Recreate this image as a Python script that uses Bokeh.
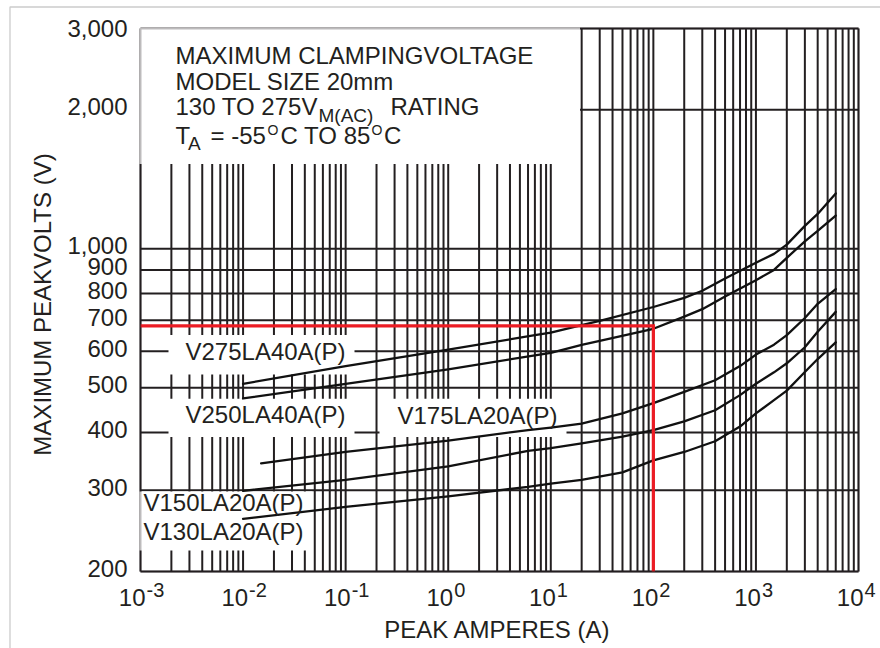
import math
from bokeh.plotting import figure
from bokeh.models import BoxAnnotation, Label, Range1d
from bokeh.embed import file_html
from bokeh.resources import INLINE

# ---------------- data ----------------
v275_amps = [0.01, 0.1, 1, 7, 10, 20, 30, 100, 200, 300, 500, 1000, 1500, 2000, 3000, 4000, 6000]
v275_volts = [510, 557, 605, 650, 658, 683, 698, 748, 783, 811, 862, 933, 975, 1021, 1121, 1190, 1318]

v250_amps = [0.01, 0.1, 1, 7, 10, 20, 30, 100, 200, 300, 500, 1000, 1500, 2000, 3000, 4000, 6000]
v250_volts = [474, 510, 548, 588, 595, 619, 632, 671, 713, 740, 788, 855, 900, 956, 1038, 1093, 1180]

v175_amps = [0.015, 0.1, 1, 6, 10, 20, 50, 100, 200, 400, 700, 1000, 1500, 2000, 3000, 4000, 6000]
v175_volts = [343, 363, 384, 405, 410, 418, 440, 463, 490, 519, 557, 590, 620, 650, 708, 760, 818]

v150_amps = [0.01, 0.1, 1, 6, 10, 20, 50, 100, 200, 400, 700, 1000, 1500, 2000, 3000, 4000, 6000]
v150_volts = [299, 316, 338, 365, 370, 379, 392, 405, 423, 447, 482, 510, 540, 565, 612, 661, 730]

v130_amps = [0.01, 0.1, 1, 6, 10, 20, 50, 100, 200, 400, 700, 1000, 1500, 2000, 3000, 4000, 6000]
v130_volts = [260, 276, 291, 305, 310, 316, 328, 348, 363, 383, 412, 440, 470, 493, 541, 577, 627]

red_amps = [0.001, 100, 100]
red_volts = [681, 681, 200]

device_names = ["V275LA40A(P)", "V250LA40A(P)", "V175LA20A(P)", "V150LA20A(P)", "V130LA20A(P)"]

y_ticks = [200, 300, 400, 500, 600, 700, 800, 900, 1000, 2000, 3000]
y_tick_labels = ["200", "300", "400", "500", "600", "700", "800", "900", "1,000", "2,000", "3,000"]
x_exponents = [-3, -2, -1, 0, 1, 2, 3, 4]
x_major = [10.0 ** e for e in x_exponents]
x_minor = [m * 10.0 ** e for e in range(-3, 4) for m in range(2, 10)]

title_lines = ["MAXIMUM CLAMPINGVOLTAGE", "MODEL SIZE 20mm"]
x_label = "PEAK AMPERES (A)"
y_label = "MAXIMUM PEAKVOLTS (V)"

# ---------------- layout helpers ----------------
W, H = 880, 648
FL, FR, FT, FB = 140, 858, 28, 571          # plot box in pixels
X_LO, X_HI, Y_LO, Y_HI = 1e-3, 1e4, 200, 3000
FONT = "Liberation Sans"
INK = "#231f20"
PPD_X = (FR - FL) / (math.log10(X_HI) - math.log10(X_LO))
PPD_Y = (FB - FT) / (math.log10(Y_HI) - math.log10(Y_LO))


def px_to_amps(px):
    return 10 ** (math.log10(X_LO) + (px - FL) / PPD_X)


def py_to_volts(py):
    return 10 ** (math.log10(Y_HI) - (py - FT) / PPD_Y)


def volts_to_py(v):
    return FT + (math.log10(Y_HI) - math.log10(v)) * PPD_Y


def amps_to_px(a):
    return FL + (math.log10(a) - math.log10(X_LO)) * PPD_X


# reference gridline pixel rows (so texts/masks sit in the same grid cells)
REF_Y = [(28, 3000), (110, 2000), (245.7, 1000), (268, 900), (292, 800), (316.7, 700),
         (347, 600), (383.3, 500), (426.7, 400), (481.5, 300), (571, 200)]


def ref_volts(py):
    for (p0, v0), (p1, v1) in zip(REF_Y, REF_Y[1:]):
        if p0 <= py <= p1:
            f = (py - p0) / (p1 - p0)
            return 10 ** (math.log10(v0) + f * (math.log10(v1) - math.log10(v0)))
    return py_to_volts(py)


# the whole canvas is the frame; the plot box is drawn inside it
p = figure(width=W, height=H, x_axis_type="log", y_axis_type="log",
           x_axis_location=None, y_axis_location=None,
           x_range=Range1d(px_to_amps(0), px_to_amps(W)),
           y_range=Range1d(py_to_volts(H), py_to_volts(0)),
           output_backend="svg", toolbar_location=None, min_border=0)
p.background_fill_color = "white"
p.border_fill_color = "white"
p.outline_line_color = None
p.grid.visible = False

# log grid limited to the plot box
v_lines = x_major + x_minor
p.multi_line(xs=[[t, t] for t in v_lines], ys=[[Y_LO, Y_HI] for _ in v_lines],
             line_color=INK, line_width=2, level="underlay")
p.multi_line(xs=[[X_LO, X_HI] for _ in y_ticks], ys=[[v, v] for v in y_ticks],
             line_color=INK, line_width=2, level="underlay")

# white masks behind the texts (drawn after the grid, below the curves)
masks = [
    (FL - 1, 579.5, 27, 163),     # title block
    (168, 354, 331, 370),         # V275 label
    (168, 354, 394, 431),         # V250 label
    (379, 566, 394, 431),         # V175 label
    (FL - 1, 312, 483, 548),      # V150 / V130 labels
]
p.quad(left=[px_to_amps(m[0]) for m in masks], right=[px_to_amps(m[1]) for m in masks],
       top=[ref_volts(m[2]) for m in masks], bottom=[ref_volts(m[3]) for m in masks],
       fill_color="white", fill_alpha=1.0, line_color=None, level="underlay")

# curves
for xs, ys in [(v275_amps, v275_volts), (v250_amps, v250_volts), (v175_amps, v175_volts),
               (v150_amps, v150_volts), (v130_amps, v130_volts)]:
    p.line(xs, ys, line_color="#111111", line_width=2.3, line_join="round", line_cap="round")

# red marker line
p.line(red_amps, red_volts, line_color="#ec1c24", line_width=3.2, line_join="miter")

# plot box outline
p.add_layout(BoxAnnotation(left=X_LO, right=X_HI, bottom=Y_LO, top=Y_HI,
                           fill_alpha=0, line_color=INK, line_width=2, level="annotation"))

# thin page border (only its left and top edges fall inside the picture)
p.add_layout(BoxAnnotation(left=px_to_amps(9.5), right=px_to_amps(W + 30),
                           top=py_to_volts(6.5), bottom=py_to_volts(H + 30),
                           fill_alpha=0, line_color="#555555", line_width=1.3,
                           level="annotation"))


def add_text(px, base_volts, text, size=24, align="left"):
    """Place a text whose baseline sits at base_volts (centred vertically on its caps)."""
    cy = volts_to_py(base_volts) - 0.36 * size
    p.add_layout(Label(x=px_to_amps(px), y=py_to_volts(cy), text=text, text_font=FONT,
                       text_font_size=f"{size}px", text_color=INK, text_align=align,
                       text_baseline="middle"))


# title block
add_text(175, ref_volts(63.5), title_lines[0])
add_text(175, ref_volts(90), title_lines[1])
add_text(175, ref_volts(115), "130 TO 275V")
add_text(318, ref_volts(122), "M(AC)", size=19)
add_text(390, ref_volts(115), "RATING")
add_text(175, ref_volts(143.5), "T")
add_text(187.5, ref_volts(150), "A", size=19)
add_text(210, ref_volts(143.5), "= -55")
add_text(267, ref_volts(135), "O", size=14)
add_text(280, ref_volts(143.5), "C TO 85")
add_text(371, ref_volts(135), "O", size=14)
add_text(383.5, ref_volts(143.5), "C")

# device labels
add_text(185, ref_volts(356), device_names[0])
add_text(185, ref_volts(418), device_names[1])
add_text(397, ref_volts(419), device_names[2])
add_text(143, ref_volts(505), device_names[3])
add_text(143, ref_volts(536), device_names[4])

# y tick labels (caps centred a little above their grid line)
for v, lab in zip(y_ticks, y_tick_labels):
    cy = volts_to_py(v) - (0 if v == Y_HI else 3)
    add_text(127, py_to_volts(cy + 0.36 * 24), lab, align="right")

# x tick labels: 10 with superscript exponent
for e, xv in zip(x_exponents, x_major):
    tx = amps_to_px(xv)
    add_text(tx + 5, py_to_volts(606), "10", align="right")
    add_text(tx + 6, py_to_volts(596.5), str(e), size=20)

# axis titles
add_text(497, py_to_volts(638), x_label, align="center")
p.add_layout(Label(x=px_to_amps(41.7), y=py_to_volts(304), text=y_label, text_font=FONT,
                   text_font_size="24px", text_color=INK, text_align="center",
                   text_baseline="middle", angle=math.pi / 2))

open("out.html", "w").write(file_html(p, INLINE))
